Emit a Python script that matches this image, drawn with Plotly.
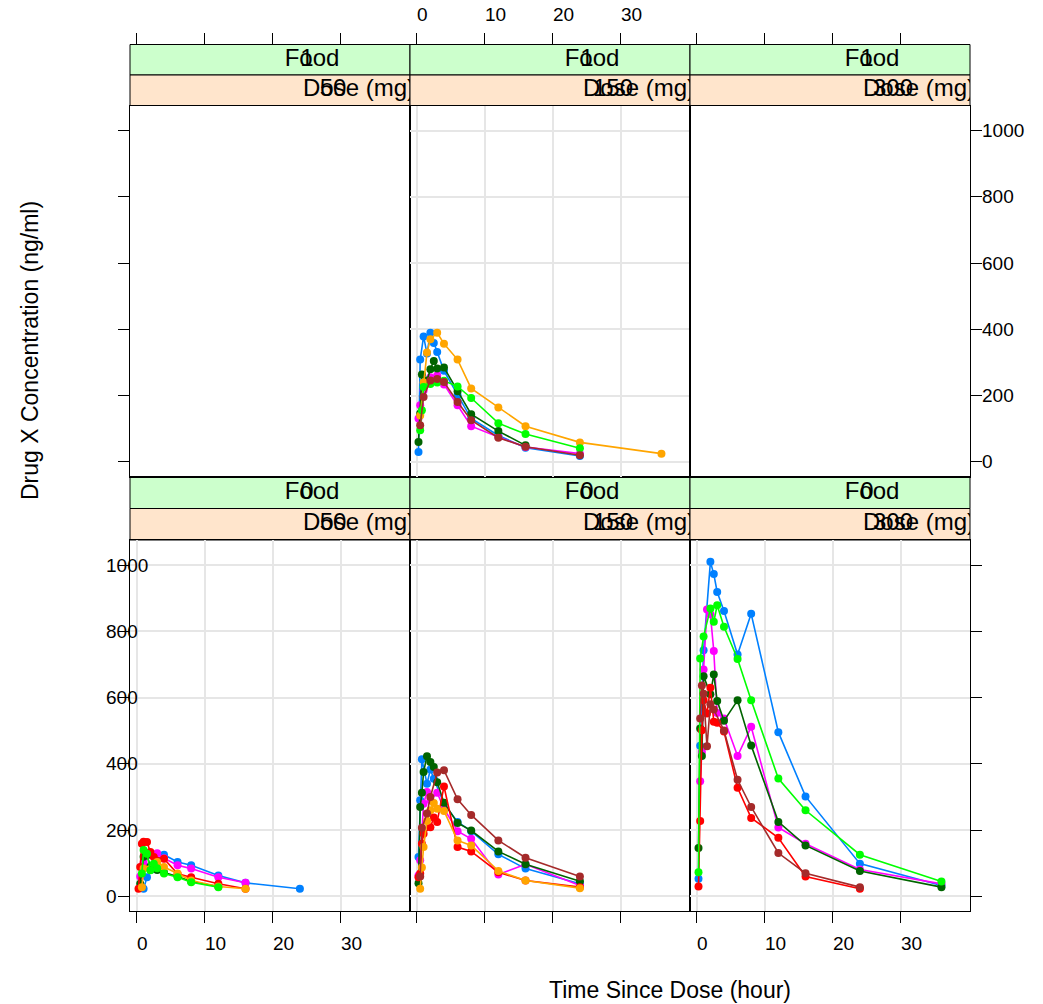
import plotly.graph_objects as go

# ---------------------------------------------------------------------------
# Data: drug X concentration (ng/ml) by subject, per Food x Dose cell.
# Sampling times (hour) are shared; None marks a sample that was not taken.
# ---------------------------------------------------------------------------
TIME = [0.25, 0.5, 0.75, 1, 1.5, 2, 2.5, 3, 4, 6, 8, 12, 16, 24, 36]

X_TICKS = [0, 10, 20, 30]
Y_TICKS = [0, 200, 400, 600, 800, 1000]

FOOD_NAME = "Food"
DOSE_NAME = "Dose (mg)"

# Food = 1, Dose = 150 mg
FED150_BLUE = [30, 309, None, 379, 327, 390, 359, 332, 275, 201, 131, 80, 43, 18, None]
FED150_DKGREEN = [60, 146, 264, None, 246, 280, 305, 282, 285, 213, 144, 93, 50, None, None]
FED150_ORANGE = [None, 140, None, 240, 330, 370, None, 390, 357, 309, 222, 164, 108, 59, 25]
FED150_GREEN = [None, 96, 156, 226, None, 235, None, 240, 245, 228, 193, 117, 84, 41, None]
FED150_MAGENTA = [131, 171, None, 216, None, 256, None, 261, 234, 171, 108, 75, 45, 25, None]
FED150_BROWN = [None, 111, None, 196, None, 246, None, 250, 241, 181, 126, 73, 46, 20, None]

# Food = 0, Dose = 50 mg
FAST50_BLUE = [None, None, None, 23, 58, 80, None, 110, 126, 104, 94, 63, 41, 23, None]
FAST50_MAGENTA = [None, 60, None, 100, None, 125, None, 130, 115, 94, 84, 58, 41, None, None]
FAST50_DKGREEN = [None, 38, None, 120, 125, 90, None, 80, 72, 60, 45, 30, None, None, None]
FAST50_RED = [23, 89, 159, 165, 164, 134, 119, None, 114, 68, 58, 38, 23, None, None]
FAST50_ORANGE = [None, None, 28, 84, None, None, None, 104, 89, 69, 48, 30, 23, None, None]
FAST50_GREEN = [None, None, 69, 140, 129, 79, 99, 85, 69, 58, 43, 28, None, None, None]

# Food = 0, Dose = 150 mg
FAST150_BLUE = [119, 290, 414, None, 340, 383, 355, None, 280, 225, 197, 127, 84, 38, None]
FAST150_MAGENTA = [63, 109, None, 280, 315, 290, None, 313, 265, 197, 174, 66, 97, 33, None]
FAST150_DKGREEN = [40, 270, 313, 376, 423, 406, 391, 345, 283, 222, 199, 136, 97, 46, None]
FAST150_RED = [58, 69, 159, 189, None, 209, 238, 225, 332, 149, 136, 73, 48, 28, None]
FAST150_ORANGE = [None, 23, 87, 149, 228, 260, 282, 265, 258, 169, 154, 77, 48, 25, None]
FAST150_BROWN = [None, 60, 207, None, 250, 300, None, 374, 381, 293, 246, 169, 117, 60, None]

# Food = 0, Dose = 300 mg
FAST300_BLUE = [53, 455, None, 743, None, 1010, 973, 919, 862, 730, 853, 496, 302, 99, 33]
FAST300_MAGENTA = [None, 348, 436, 685, 866, 852, 741, 554, 537, 424, 512, 208, 159, 81, 38]
FAST300_DKGREEN = [146, 507, 424, 665, None, 610, 670, 590, 530, 592, 456, 225, 154, 77, 28]
FAST300_RED = [30, 228, 502, 592, 552, 630, 527, 524, 498, 328, 237, 177, 60, 23, None]
FAST300_GREEN = [73, 718, None, 785, None, 869, 829, 879, 814, 717, 592, 356, 260, 126, 45]
FAST300_BROWN = [None, 537, 637, 612, 453, 580, 564, None, 501, 352, 270, 131, 70, 28, None]

# lattice superpose palette
BLUE, MAGENTA, DKGREEN, RED = "#0080ff", "#ff00ff", "#006400", "#ff0000"
ORANGE, GREEN, BROWN = "#ffa500", "#00ff00", "#a52a2a"

# (row, col, food level, dose level, [(colour, values), ...])
PANELS = [
    (0, 0, "1", "50", []),
    (0, 1, "1", "150", [(BLUE, FED150_BLUE), (MAGENTA, FED150_MAGENTA),
                        (DKGREEN, FED150_DKGREEN), (ORANGE, FED150_ORANGE),
                        (GREEN, FED150_GREEN), (BROWN, FED150_BROWN)]),
    (0, 2, "1", "300", []),
    (1, 0, "0", "50", [(BLUE, FAST50_BLUE), (MAGENTA, FAST50_MAGENTA),
                       (DKGREEN, FAST50_DKGREEN), (RED, FAST50_RED),
                       (ORANGE, FAST50_ORANGE), (GREEN, FAST50_GREEN)]),
    (1, 1, "0", "150", [(BLUE, FAST150_BLUE), (MAGENTA, FAST150_MAGENTA),
                        (DKGREEN, FAST150_DKGREEN), (RED, FAST150_RED),
                        (ORANGE, FAST150_ORANGE), (BROWN, FAST150_BROWN)]),
    (1, 2, "0", "300", [(BLUE, FAST300_BLUE), (MAGENTA, FAST300_MAGENTA),
                        (DKGREEN, FAST300_DKGREEN), (RED, FAST300_RED),
                        (GREEN, FAST300_GREEN), (BROWN, FAST300_BROWN)]),
]

# ---------------------------------------------------------------------------
# Layout geometry (pixels of a 1043 x 1004 page)
# ---------------------------------------------------------------------------
W, H = 1043, 1004
COL_PX = [(130, 410), (410, 690), (690, 970)]
PANEL_PY = [(105.5, 476.5), (540, 911)]
STRIP_PY = [((44.5, 75), (75, 105.5)), ((476.5, 508.5), (508.5, 540))]
STRIP_FILL = ["#ccffcc", "#ffe5cc"]
# strip label centres, in px from the panel's left edge
STRIP_POS = [[182, 177], [229, 203]]
X_RANGE = [-1, 40.2]
Y_RANGE = [-44, 1076]
FONT = "Liberation Sans, Arial, Helvetica, sans-serif"
GRID = "#e6e6e6"
TICKLEN = 11
TICK_FONT = dict(family=FONT, size=19, color="black")
STRIP_FONT = dict(family=FONT, size=24, color="black")
TITLE_FONT = dict(family=FONT, size=23, color="black")


def fx(p):
    return p / W


def fy(p):
    return 1 - p / H


def ax_names(n):
    s = "" if n == 1 else str(n)
    return "xaxis" + s, "yaxis" + s, "x" + s, "y" + s


def strip_x(px, width):
    # px offset inside a strip -> time units of the shared x scale
    return X_RANGE[0] + px * (X_RANGE[1] - X_RANGE[0]) / width


fig = go.Figure()
layout = {}
shapes = []
annotations = []

for idx, (row, col, food, dose, series) in enumerate(PANELS):
    n = row * 3 + col + 1
    xa, ya, xr, yr = ax_names(n)
    x0, x1 = COL_PX[col]
    y0, y1 = PANEL_PY[row]
    has_data = len(series) > 0
    layout[xa] = dict(
        domain=[fx(x0), fx(x1)], range=X_RANGE, anchor=yr,
        side="top" if row == 0 else "bottom",
        showline=True, mirror=True, linecolor="black", linewidth=1,
        # top-row ticks sit above the strips (drawn on the strip axis)
        ticks="" if row == 0 else "outside", ticklen=TICKLEN, tickwidth=1,
        tickcolor="black", tickmode="array", tickvals=X_TICKS,
        showticklabels=False,
        showgrid=has_data, gridcolor=GRID, gridwidth=1.5, zeroline=False,
        fixedrange=True,
    )
    layout[ya] = dict(
        domain=[fy(y1), fy(y0)], range=Y_RANGE, anchor=xr,
        side="right" if col == 2 else "left",
        showline=True, mirror=True, linecolor="black", linewidth=1,
        ticks="" if col == 1 else "outside", ticklen=TICKLEN, tickwidth=1,
        tickcolor="black", tickmode="array", tickvals=Y_TICKS,
        showticklabels=False,
        showgrid=has_data, gridcolor=GRID, gridwidth=1.5, zeroline=False,
        fixedrange=True,
    )
    if not has_data:
        # an empty trace keeps the panel frame and its ticks on the page
        fig.add_trace(go.Scatter(x=[None], y=[None], xaxis=xr, yaxis=yr,
                                 mode="markers", showlegend=False,
                                 hoverinfo="skip"))
    for colour, vals in series:
        fig.add_trace(go.Scatter(
            x=TIME, y=vals, xaxis=xr, yaxis=yr, mode="lines+markers",
            connectgaps=True, line=dict(color=colour, width=1.6),
            marker=dict(color=colour, size=8), showlegend=False,
            hoverinfo="skip",
        ))

    # two strips above each panel: Food (green) over Dose (peach)
    strip_text = [
        [(FOOD_NAME, STRIP_POS[0][0]), (food, STRIP_POS[0][1])],
        [(DOSE_NAME, STRIP_POS[1][0]), (dose, STRIP_POS[1][1])],
    ]
    for k in range(2):
        m = 7 + idx * 2 + k
        sxa, sya, sxr, syr = ax_names(m)
        sy0, sy1 = STRIP_PY[row][k]
        top_axis = (row == 0 and k == 0)
        layout[sxa] = dict(
            domain=[fx(x0), fx(x1)], range=X_RANGE, anchor=syr,
            side="top", showline=False, showgrid=False, zeroline=False,
            ticks="outside" if top_axis else "", ticklen=TICKLEN,
            tickwidth=1, tickcolor="black", tickmode="array",
            tickvals=X_TICKS, showticklabels=False,
            visible=top_axis, fixedrange=True,
        )
        layout[sya] = dict(domain=[fy(sy1), fy(sy0)], range=[0, 1],
                           anchor=sxr, visible=False, fixedrange=True)
        shapes.append(dict(type="rect", xref="paper", yref="paper",
                           x0=fx(x0), x1=fx(x1), y0=fy(sy1), y1=fy(sy0),
                           fillcolor=STRIP_FILL[k],
                           line=dict(color="black", width=1), layer="below"))
        for label, pos in strip_text[k]:
            fig.add_trace(go.Scatter(
                x=[strip_x(pos, x1 - x0)], y=[0.5], xaxis=sxr, yaxis=syr,
                mode="text", text=[label], textposition="middle center",
                textfont=STRIP_FONT, cliponaxis=True,
                showlegend=False, hoverinfo="skip",
            ))

# tick labels (lattice alternating axes)
for v in X_TICKS:
    annotations.append(dict(x=v, xref="x2", y=fy(15), yref="paper",
                            text=str(v), showarrow=False, xanchor="left",
                            yanchor="middle", xshift=-2, font=TICK_FONT))
    for xr in ("x4", "x6"):
        annotations.append(dict(x=v, xref=xr, y=fy(943), yref="paper",
                                text=str(v), showarrow=False, xanchor="left",
                                yanchor="middle", xshift=-2, font=TICK_FONT))
for v in Y_TICKS:
    annotations.append(dict(x=fx(106), xref="paper", y=v, yref="y4",
                            text=str(v), showarrow=False, xanchor="left",
                            yanchor="middle", xshift=-2, font=TICK_FONT))
    annotations.append(dict(x=fx(982), xref="paper", y=v, yref="y3",
                            text=str(v), showarrow=False, xanchor="left",
                            yanchor="middle", xshift=-2, font=TICK_FONT))

# axis titles
annotations.append(dict(x=fx(549), xref="paper", y=fy(990), yref="paper",
                        text="Time Since Dose (hour)", showarrow=False,
                        xanchor="left", yanchor="middle", xshift=-2,
                        font=TITLE_FONT))
annotations.append(dict(x=fx(30), xref="paper", y=fy(351), yref="paper",
                        text="Drug X Concentration (ng/ml)", showarrow=False,
                        textangle=-90, xanchor="center", yanchor="middle",
                        font=TITLE_FONT))

fig.update_layout(
    width=W, height=H, margin=dict(l=0, r=0, t=0, b=0),
    paper_bgcolor="white", plot_bgcolor="white",
    showlegend=False, shapes=shapes, annotations=annotations,
    font=dict(family=FONT, color="black"),
    **layout,
)

fig.write_html("out.html", config={"displayModeBar": False})
